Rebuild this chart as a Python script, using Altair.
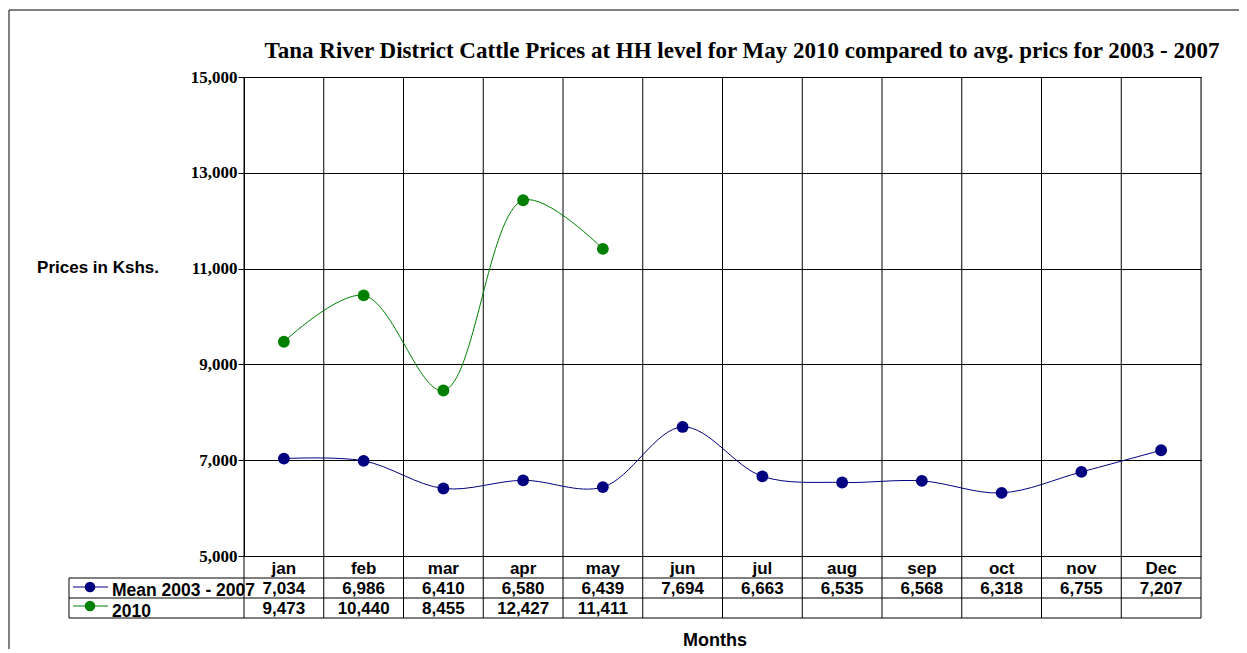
import altair as alt
import pandas as pd

months = ["jan", "feb", "mar", "apr", "may", "jun", "jul", "aug", "sep", "oct", "nov", "Dec"]
mean_0307 = [7034, 6986, 6410, 6580, 6439, 7694, 6663, 6535, 6568, 6318, 6755, 7207]
y2010 = [9473, 10440, 8455, 12427, 11411]
series_names = ["Mean 2003 - 2007", "2010"]
series_colors = ["#000080", "#008000"]
y_ticks = [5000, 7000, 9000, 11000, 13000, 15000]
title_text = "Tana River District Cattle Prices at HH level for May 2010 compared to avg. prics for 2003 - 2007"

W, H = 957, 479
SERIF = "Liberation Serif"
SANS = "Liberation Sans"

rows = []
for i, m in enumerate(months):
    rows.append(dict(series=series_names[0], month=m, pos=i + 0.5, value=mean_0307[i]))
for i, v in enumerate(y2010):
    rows.append(dict(series=series_names[1], month=months[i], pos=i + 0.5, value=v))
df = pd.DataFrame(rows)

mdf = pd.DataFrame({"month": months, "pos": [i + 0.5 for i in range(12)], "mean": mean_0307})
d10 = pd.DataFrame({"pos": [i + 0.5 for i in range(len(y2010))], "v": y2010})
bounds = pd.DataFrame({"b": list(range(13))})
one = pd.DataFrame({"a": [0]})

xs = alt.Scale(domain=[0, 12], nice=False, zero=False)
ys = alt.Scale(domain=[5000, 15000], nice=False, zero=False)
cs = alt.Scale(domain=series_names, range=series_colors)


def X(field):
    return alt.X(field, scale=xs, axis=None)


yaxis = alt.Axis(
    values=y_ticks, labelExpr="format(datum.value, ',')", title=None, grid=True, gridColor="black",
    gridOpacity=1, gridWidth=1, domainColor="black", domainWidth=1,
    tickColor="black", tickSize=6, labelFont=SERIF, labelFontWeight="bold",
    labelFontSize=17, labelColor="black", labelPadding=1)

base = alt.Chart(df)

lines = base.mark_line(interpolate="catmull-rom", strokeWidth=1).encode(
    x=X("pos:Q"),
    y=alt.Y("value:Q", scale=ys, axis=yaxis),
    color=alt.Color("series:N", scale=cs, legend=None),
    detail="series:N",
)
points = base.mark_point(filled=True, size=140, opacity=1, shape="circle").encode(
    x=X("pos:Q"),
    y=alt.Y("value:Q", scale=ys, axis=yaxis),
    color=alt.Color("series:N", scale=cs, legend=None),
)

vrules = alt.Chart(bounds).mark_rule(color="black", strokeWidth=1).encode(
    x=X("b:Q"), y=alt.value(0), y2=alt.value(541)
)

table_layers = []
for yy in [501, 521, 541]:
    table_layers.append(alt.Chart(one).mark_rule(color="black", strokeWidth=1).encode(
        x=alt.value(-175), x2=alt.value(W), y=alt.value(yy)))
table_layers.append(alt.Chart(one).mark_rule(color="black", strokeWidth=1).encode(
    x=alt.value(-175), y=alt.value(501), y2=alt.value(541)))

month_txt = alt.Chart(mdf).mark_text(font=SANS, fontWeight="bold", fontSize=17, color="black", baseline="middle").encode(
    x=X("pos:Q"), y=alt.value(492), text="month:N"
)
mean_txt = alt.Chart(mdf).mark_text(font=SANS, fontWeight="bold", fontSize=17, color="black", baseline="middle").encode(
    x=X("pos:Q"), y=alt.value(512), text=alt.Text("mean:Q", format=",")
)
y10_txt = alt.Chart(d10).mark_text(font=SANS, fontWeight="bold", fontSize=17, color="black", baseline="middle").encode(
    x=X("pos:Q"), y=alt.value(532), text=alt.Text("v:Q", format=",")
)

key_layers = []
for name, col, ky, ty in zip(series_names, series_colors, [510, 529], [514, 535]):
    kd = pd.DataFrame({"series": [name]})
    key_layers.append(alt.Chart(kd).mark_rule(strokeWidth=1, color=col).encode(
        x=alt.value(-171), x2=alt.value(-136), y=alt.value(ky)))
    key_layers.append(alt.Chart(kd).mark_point(filled=True, size=110, opacity=1, color=col).encode(
        x=alt.value(-154), y=alt.value(ky)))
    key_layers.append(alt.Chart(kd).mark_text(font=SANS, fontWeight="bold", fontSize=17.5, color="black",
                                              align="left", baseline="middle").encode(
        x=alt.value(-132), y=alt.value(ty), text="series:N"))

title = alt.Chart(pd.DataFrame({"t": [title_text]})).mark_text(font=SERIF, fontWeight="bold", fontSize=23, color="black", baseline="middle").encode(
    x=alt.value(498), y=alt.value(-26), text="t:N"
)
ylab = alt.Chart(pd.DataFrame({"t": ["Prices in Kshs."]})).mark_text(font=SANS, fontWeight="bold", fontSize=17, color="black", baseline="middle").encode(
    x=alt.value(-146), y=alt.value(191), text="t:N"
)
xlab = alt.Chart(pd.DataFrame({"t": ["Months"]})).mark_text(font=SANS, fontWeight="bold", fontSize=18, color="black", baseline="middle").encode(
    x=alt.value(471), y=alt.value(564), text="t:N"
)

frame_v = alt.Chart(one).mark_rule(color="black", strokeWidth=1).encode(
    x=alt.value(-235), y=alt.value(-67), y2=alt.value(590)
)
frame_h = alt.Chart(one).mark_rule(color="black", strokeWidth=1).encode(
    x=alt.value(-235), x2=alt.value(1010), y=alt.value(-67)
)

chart = alt.layer(
    vrules, *table_layers, lines, points, month_txt, mean_txt, y10_txt,
    *key_layers, title, ylab, xlab, frame_v, frame_h
).properties(
    width=W, height=H,
    autosize=alt.AutoSizeParams(type="none"),
    padding={"left": 236, "top": 69, "right": 38, "bottom": 93},
).configure_view(strokeWidth=0).configure(background="white")

chart.save("out.html", embed_options={"renderer": "svg", "actions": False})
